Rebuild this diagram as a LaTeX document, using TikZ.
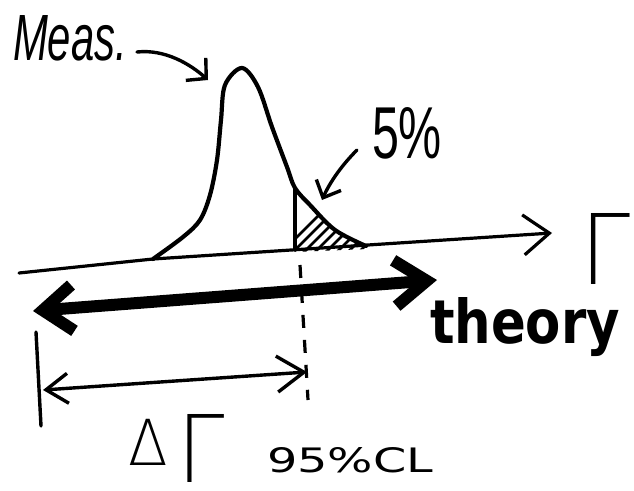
\documentclass[tikz,border=0pt]{standalone}
\usepackage{fontspec}
\usepackage{graphicx}
\setmainfont{DejaVu Sans}
\newfontfamily\handfont{Liberation Sans}
\IfFontExistsTF{DejaVu Sans ExtraLight}
  {\newfontfamily\thinfont{DejaVu Sans ExtraLight}}
  {\newfontfamily\thinfont{DejaVu Sans}}
\usetikzlibrary{arrows.meta}
\begin{document}
\begin{tikzpicture}[x=1pt,y=-1pt,line cap=round,line join=round,
  txt/.style={inner sep=0pt,outer sep=0pt,anchor=base west},
  axisline/.style={line width=3.2pt},
  curveline/.style={line width=4.2pt},
  thinline/.style={line width=3.4pt},
  hatchline/.style={line width=2.8pt},
  fatarrow/.style={line width=12pt},
  dashline/.style={line width=3.2pt,line cap=butt,dash pattern=on 13pt off 12pt}]
\useasboundingbox (0,0) rectangle (634,490);

% texts
\node[txt] (meas) at (13,60) {\resizebox{114pt}{45pt}{\handfont\itshape Meas.}};
\node[txt] (five) at (372,158) {\resizebox{70pt}{51pt}{\handfont 5\%}};
\node[txt] (theory) at (430,343) {\resizebox{190pt}{46pt}{\bfseries theory}};
\node[txt] (gam) at (580,284) {\resizebox{50pt}{71pt}{\thinfont Γ}};
\node[txt] (dgam) at (128,482) {\resizebox{97pt}{68pt}{\thinfont\raisebox{0.18em}{\scalebox{0.68}{Δ}}\kern0.12em Γ}};
\node[txt] (cl) at (267,472) {\resizebox{166pt}{25pt}{95\%CL}};

% coordinates
\coordinate (ax0) at (19,273);
\coordinate (axk) at (153,259);
\coordinate (ax1) at (552,233);
\coordinate (measstart) at (137,52);
\coordinate (peak) at (208,80);
\coordinate (fivestart) at (357,150);
\coordinate (tail) at (322,200);
\coordinate (cutbot) at (295,250);
\coordinate (cuttop) at (295,188);
\coordinate (thL) at (33,311);
\coordinate (thR) at (437,280);
\coordinate (ciL) at (43,390);
\coordinate (ciR) at (307,372);
\coordinate (vl0) at (36,332);
\coordinate (vl1) at (41,426);
\coordinate (ds0) at (300,265);
\coordinate (ds1) at (308,400);

% hatched 5% region
\begin{scope}
  \clip (295,252) -- (295,188) -- (310,205) -- (335,230) -- (368,249) -- cycle;
  \foreach \k in {0,...,9} \draw[hatchline] (272+\k*11,262) -- ++(60,-60);
\end{scope}

% axis
\draw[axisline,-{Straight Barb[length=26pt,width=40pt]}] (ax0) -- (axk) -- (ax1);

% measurement curve
\draw[curveline] plot[smooth,tension=0.55] coordinates {(153,259) (183,237) (200,220) (210,195) (217,160) (221,120) (225,85) (242,68) (258,87) (272,127) (287,167) (295,188) (310,205) (335,230) (366,246)};
\draw[thinline] (cutbot) -- (cuttop);

% label arrows
\draw[thinline,-{Straight Barb[length=14pt,width=30pt]}] (measstart) .. controls (165,49) and (190,64) .. (peak);
\draw[thinline,-{Straight Barb[length=14pt,width=27pt]}] (fivestart) .. controls (342,165) and (330,182) .. (tail);

% theory range
\draw[fatarrow,{Straight Barb[length=30pt,width=46pt]}-{Straight Barb[length=32pt,width=46pt]}] (thL) -- (thR);

% confidence interval
\draw[thinline] (vl0) -- (vl1);
\draw[dashline] (ds0) -- (ds1);
\draw[thinline,{Straight Barb[length=22pt,width=30pt]}-{Straight Barb[length=27pt,width=36pt]}] (ciL) -- (ciR);
\end{tikzpicture}
\end{document}
